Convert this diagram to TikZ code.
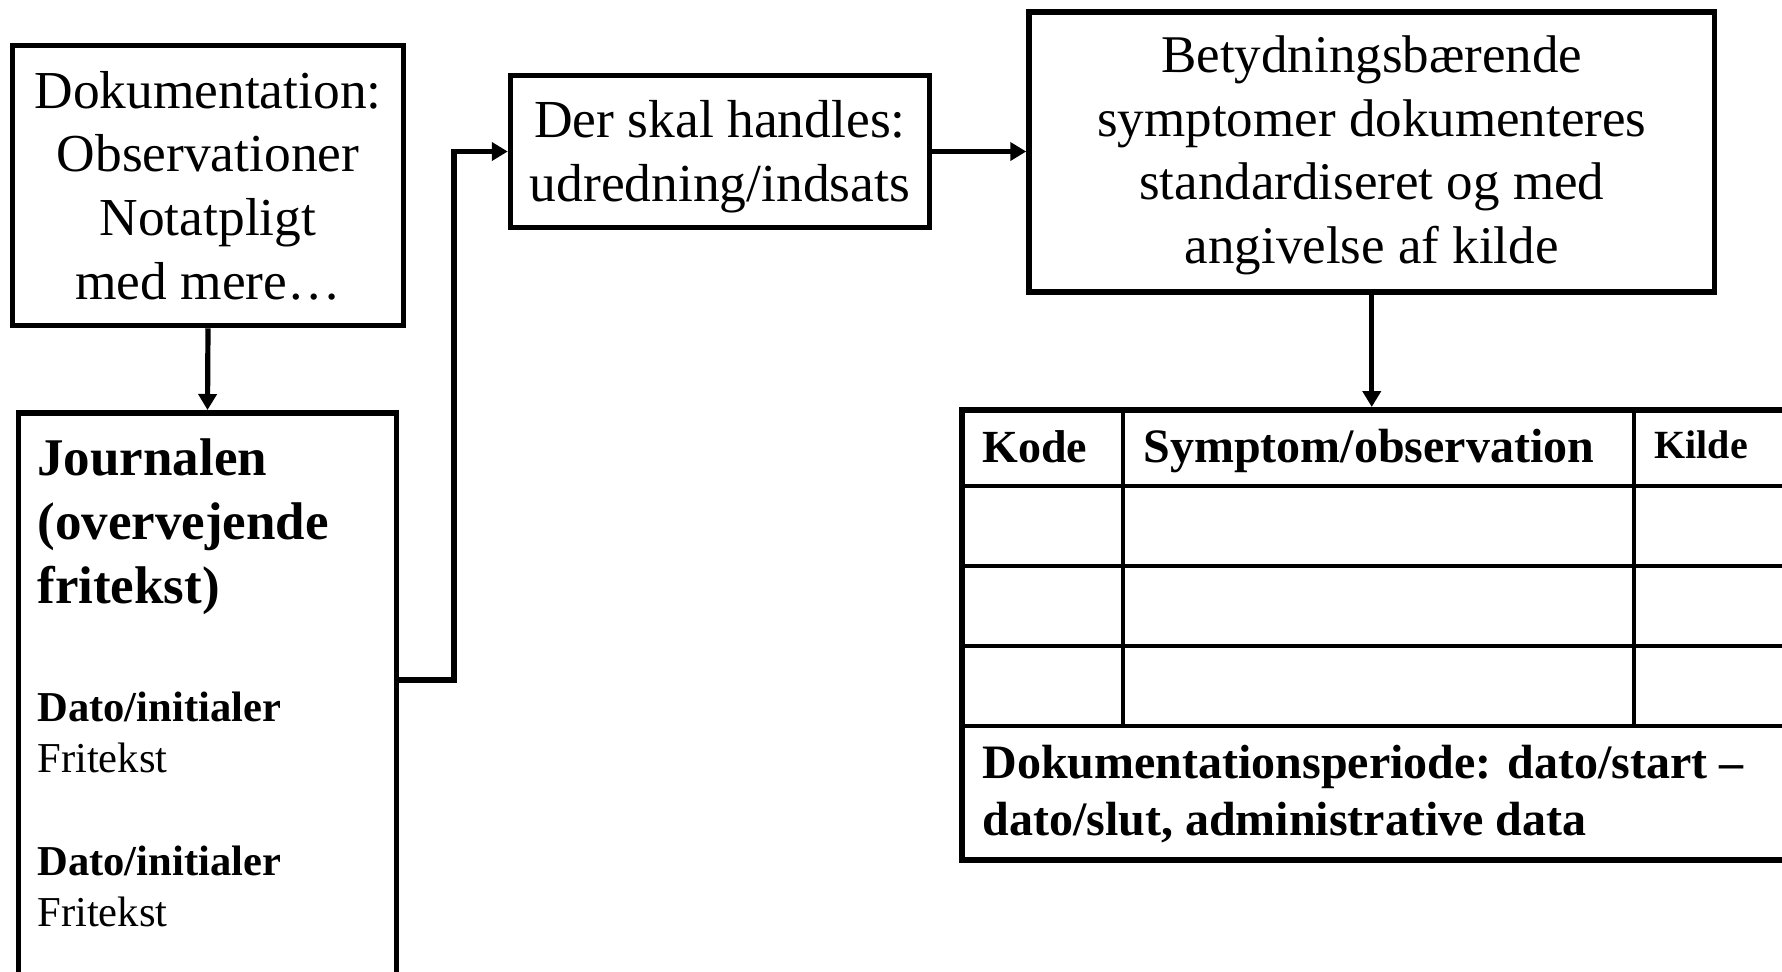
\documentclass[tikz,border=0pt]{standalone}
\usepackage{fontspec}
\setmainfont{Liberation Serif}
\usetikzlibrary{arrows.meta}
\begin{document}
\begin{tikzpicture}[x=0.5pt,y=-0.5pt,
  box/.style={draw, line width=2.75pt, inner sep=0pt, align=center},
  boxtext/.style={inner sep=0pt, align=center},
  conn/.style={line width=2.6pt, -{Triangle[length=8pt,width=9pt]}},
  txt/.style={anchor=base west, inner sep=0pt},
  grid/.style={line width=1.6pt},
]
\useasboundingbox (0,0) rectangle (1782,971);
\clip (0,0) rectangle (1782,971);

% Box 1
\node[box, minimum width=195.5pt, minimum height=140pt,
      font=\fontsize{26.7}{31.8}\selectfont] (doc) at (208,185.5)
  {Dokumentation:\\Observationer\\Notatpligt\\med mere…};

% Box 2 (Journalen) - runs past the bottom edge
\node[box, anchor=north, minimum width=189pt, minimum height=300pt] (jour) at (207.5,410) {};
\node[txt, font=\fontsize{26.5}{32}\selectfont\bfseries] (j1) at (37,475) {Journalen};
\node[txt, font=\fontsize{26.5}{32}\selectfont\bfseries] (j2) at (37,539) {(overvejende};
\node[txt, font=\fontsize{26.5}{32}\selectfont\bfseries] (j3) at (37,603) {fritekst)};
\node[txt, font=\fontsize{21.3}{25}\selectfont\bfseries] (d1) at (37,721) {Dato/initialer};
\node[txt, font=\fontsize{21.3}{25}\selectfont] (f1) at (37,772) {Fritekst};
\node[txt, font=\fontsize{21.3}{25}\selectfont\bfseries] (d2) at (37,875) {Dato/initialer};
\node[txt, font=\fontsize{21.3}{25}\selectfont] (f2) at (37,926) {Fritekst};

% Box 3
\node[box, minimum width=209.5pt, minimum height=76pt] (act) at (720,151.5) {};
\node[boxtext, font=\fontsize{26.75}{32}\selectfont] (actT) at (720,157)
  {Der skal handles:\\udredning/indsats};

% Box 4
\node[box, minimum width=342.75pt, minimum height=140pt] (sym) at (1371.75,152) {};
\node[boxtext, font=\fontsize{26.5}{31.8}\selectfont] (symT) at (1371.75,155.5)
  {Betydningsbærende\\symptomer dokumenteres\\standardiseret og med\\angivelse af kilde};

% Table
\node[draw, line width=3pt, inner sep=0pt, anchor=north west,
      minimum width=419pt, minimum height=225pt] (tab) at (959,407) {};
\draw[grid] (962,486) -- (1800,486);
\draw[grid] (962,566) -- (1800,566);
\draw[grid] (962,646) -- (1800,646);
\draw[line width=2pt] (962,726) -- (1800,726);
\draw[grid] (1123,410) -- (1123,726);
\draw[grid] (1634,410) -- (1634,726);
\node[txt, font=\fontsize{23}{28}\selectfont\bfseries] (hk) at (982,462) {Kode};
\node[txt, font=\fontsize{24}{28}\selectfont\bfseries] (hs) at (1143,462) {Symptom/observation};
\node[txt, font=\fontsize{20}{24}\selectfont\bfseries] (hq) at (1654,458) {Kilde};
\node[txt, font=\fontsize{24}{28.5}\selectfont\bfseries] (p1) at (982,778) {Dokumentationsperiode: dato/start –};
\node[txt, font=\fontsize{24}{28.5}\selectfont\bfseries] (p2) at (982,835) {dato/slut, administrative data};

% Connectors
\coordinate (bend) at (454,680);
\draw[conn] (doc.south) -- (jour.north);
\draw[conn] (jour.east |- bend) -- (bend) |- (act.west);
\draw[conn] (act.east) -- (act.east -| sym.west);
\draw[conn] (sym.south) -- (sym.south |- tab.north);
\end{tikzpicture}
\end{document}
